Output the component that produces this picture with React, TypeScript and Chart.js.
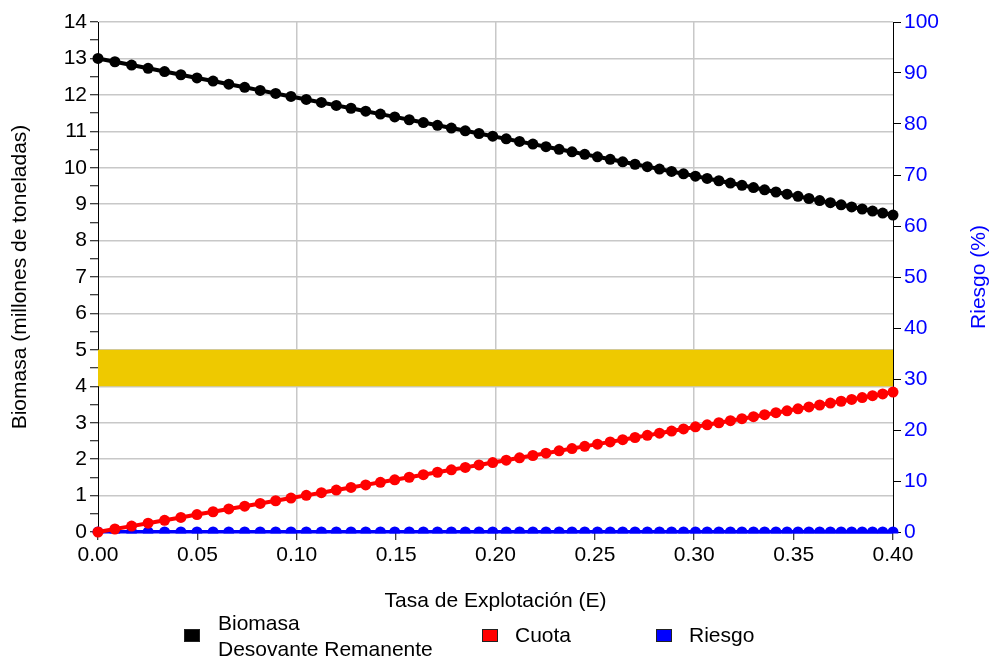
import React, { useEffect, useRef } from 'react';
import { Chart, registerables } from 'chart.js';
Chart.register(...registerables);

// Tasa de Explotación (E)
const E = [
  0, 0.0085, 0.0169, 0.0252, 0.0335, 0.0417, 0.0498, 0.0579, 0.0658, 0.0738,
  0.0816, 0.0894, 0.0971, 0.1048, 0.1124, 0.1199, 0.1273, 0.1347, 0.1421, 0.1493,
  0.1566, 0.1637, 0.1708, 0.1778, 0.1848, 0.1917, 0.1986, 0.2054, 0.2121, 0.2188,
  0.2254, 0.2320, 0.2385, 0.2449, 0.2513, 0.2577, 0.2640, 0.2702, 0.2764, 0.2825,
  0.2886, 0.2946, 0.3006, 0.3065, 0.3124, 0.3182, 0.3240, 0.3298, 0.3354, 0.3411,
  0.3467, 0.3522, 0.3577, 0.3631, 0.3685, 0.3739, 0.3792, 0.3845, 0.3897, 0.3948,
  0.4000,
];

// Biomasa Desovante Remanente (millones de toneladas)
const biomasa = [
  13.000, 12.909, 12.818, 12.729, 12.640, 12.552, 12.465, 12.378, 12.293, 12.207,
  12.123, 12.039, 11.956, 11.873, 11.792, 11.711, 11.632, 11.552, 11.472, 11.395,
  11.317, 11.240, 11.164, 11.089, 11.013, 10.939, 10.865, 10.792, 10.720, 10.648,
  10.577, 10.506, 10.436, 10.367, 10.299, 10.230, 10.162, 10.095, 10.029, 9.963,
  9.898, 9.833, 9.769, 9.705, 9.642, 9.579, 9.517, 9.455, 9.394, 9.333,
  9.273, 9.214, 9.155, 9.097, 9.039, 8.981, 8.924, 8.867, 8.811, 8.756,
  8.700,
];

// Cuota (millones de toneladas)
const cuota = [
  0.000, 0.082, 0.162, 0.242, 0.322, 0.400, 0.478, 0.556, 0.632, 0.708,
  0.783, 0.858, 0.932, 1.006, 1.079, 1.151, 1.222, 1.293, 1.364, 1.433,
  1.503, 1.572, 1.640, 1.707, 1.774, 1.840, 1.907, 1.972, 2.036, 2.100,
  2.164, 2.227, 2.290, 2.351, 2.412, 2.474, 2.534, 2.594, 2.653, 2.712,
  2.771, 2.828, 2.886, 2.942, 2.999, 3.055, 3.110, 3.166, 3.220, 3.275,
  3.328, 3.381, 3.434, 3.486, 3.538, 3.589, 3.640, 3.691, 3.741, 3.790,
  3.840,
];

// Riesgo (%)
const riesgo = [
  0, 0, 0, 0, 0, 0, 0, 0, 0, 0,
  0, 0, 0, 0, 0, 0, 0, 0, 0, 0,
  0, 0, 0, 0, 0, 0, 0, 0, 0, 0,
  0, 0, 0, 0, 0, 0, 0, 0, 0, 0,
  0, 0, 0, 0, 0, 0, 0, 0, 0, 0,
  0, 0, 0, 0, 0, 0, 0, 0, 0, 0,
  0,
];

// Banda de referencia (millones de toneladas)
const bandLow = 4;
const bandHigh = 5;
const bandX = [0, 0.4];

const legendLabels = [['Biomasa', 'Desovante Remanente'], ['Cuota'], ['Riesgo']];
const rightTitle = 'Riesgo (%)';

const FONT = '"Liberation Sans", Arial, Helvetica, sans-serif';
const font = { family: FONT, size: 21 };
const GRID = '#c8c8c8';
const NONE = 'rgba(0,0,0,0)';

export default function App() {
  const ref = useRef<HTMLCanvasElement>(null);
  useEffect(() => {
    document.body.style.margin = '0';
    const toXY = (ys: number[]) => E.map((x, i) => ({ x, y: ys[i] }));
    const series = (label: string, ys: number[], color: string, axis: string, clip: any) => ({
      label,
      data: toXY(ys),
      borderColor: color,
      backgroundColor: color,
      borderWidth: 4,
      pointRadius: 5.5,
      pointBorderWidth: 0,
      yAxisID: axis,
      clip,
      order: 0,
    });
    const chart = new Chart(ref.current!, {
      type: 'line',
      data: {
        datasets: [
          series('Biomasa Desovante Remanente', biomasa, '#000000', 'y', false),
          series('Cuota', cuota, '#ff0000', 'y', false),
          series('Riesgo', riesgo, '#0000ff', 'y1', { left: 10, right: 10, top: 10, bottom: 1.5 }),
          {
            label: 'band',
            data: bandX.map((x) => ({ x, y: bandHigh })),
            borderWidth: 0,
            borderColor: NONE,
            pointRadius: 0,
            backgroundColor: '#eec900',
            fill: { value: bandLow } as any,
            yAxisID: 'y',
            order: 5,
          },
        ] as any,
      },
      options: {
        responsive: false,
        animation: false,
        layout: { padding: { left: 4, right: 0, top: 22, bottom: 39 } },
        plugins: { legend: { display: false }, tooltip: { enabled: false } },
        scales: {
          x: {
            type: 'linear',
            min: 0,
            max: 0.4,
            ticks: {
              stepSize: 0.05,
              autoSkip: false,
              maxRotation: 0,
              padding: 3,
              color: '#000',
              font,
              callback: (v: any) => Number(v).toFixed(2),
            },
            grid: {
              color: (c: any) => {
                const v = c.tick ? c.tick.value : 0;
                const k = v * 10;
                return v > 0.001 && v < 0.399 && Math.abs(k - Math.round(k)) < 1e-6 ? GRID : NONE;
              },
              lineWidth: 1.5,
              tickColor: '#000',
              tickLength: 8,
              tickWidth: 1,
            },
            border: { color: '#000', width: 1 },
            title: { display: true, text: 'Tasa de Explotación (E)', color: '#000', font },
            afterFit: (s: any) => { s.height = 86; },
          },
          y: {
            type: 'linear',
            position: 'left',
            min: 0,
            max: 14,
            ticks: {
              stepSize: 0.5,
              autoSkip: false,
              padding: 3,
              color: '#000',
              font,
              callback: (v: any) => (Number.isInteger(Number(v)) ? String(v) : ''),
            },
            grid: {
              color: (c: any) => (c.tick && Number.isInteger(c.tick.value) ? GRID : NONE),
              lineWidth: 1.5,
              tickColor: '#000',
              tickLength: 8,
              tickWidth: 1,
            },
            border: { color: '#000', width: 1 },
            title: { display: true, text: 'Biomasa (millones de toneladas)', color: '#000', font },
            afterFit: (s: any) => { s.width = 94; },
          },
          y1: {
            type: 'linear',
            position: 'right',
            min: 0,
            max: 100,
            ticks: { stepSize: 10, autoSkip: false, padding: 3, color: '#0000ff', font },
            grid: { drawOnChartArea: false, tickColor: '#000', tickLength: 8, tickWidth: 1 },
            border: { color: '#000', width: 1 },
            title: { display: false },
            afterFit: (s: any) => { s.width = 97; },
          },
        },
      },
    });
    return () => chart.destroy();
  }, []);

  const box = (color: string, left: number) => ({
    position: 'absolute' as const,
    left,
    top: 629,
    width: 14,
    height: 11,
    background: color,
    border: '1px solid #222',
  });
  const text = (left: number, top: number) => ({
    position: 'absolute' as const,
    left,
    top,
    fontFamily: FONT,
    fontSize: 21,
    lineHeight: '26px',
    color: '#000',
    whiteSpace: 'nowrap' as const,
  });

  return (
    <div style={{ position: 'relative', width: 990, height: 657, background: '#fff', overflow: 'hidden' }}>
      <canvas ref={ref} width={990} height={657} style={{ display: 'block' }} />
      <div
        style={{
          position: 'absolute',
          left: 978 - 100,
          top: 277 - 13,
          width: 200,
          height: 26,
          lineHeight: '26px',
          textAlign: 'center',
          fontFamily: FONT,
          fontSize: 21,
          color: '#0000ff',
          transform: 'rotate(-90deg)',
          transformOrigin: '50% 50%',
          whiteSpace: 'nowrap',
        }}
      >
        {rightTitle}
      </div>
      <div style={box('#000000', 184)} />
      <div style={text(218, 610)}>
        {legendLabels[0][0]}
        <br />
        {legendLabels[0][1]}
      </div>
      <div style={box('#ff0000', 482)} />
      <div style={text(515, 622)}>{legendLabels[1][0]}</div>
      <div style={box('#0000ff', 656)} />
      <div style={text(689, 622)}>{legendLabels[2][0]}</div>
    </div>
  );
}
